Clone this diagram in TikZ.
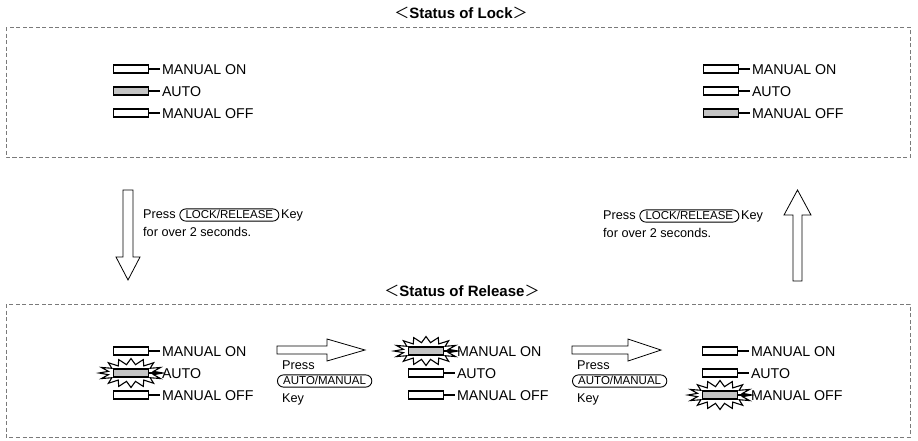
\documentclass[tikz,border=0pt]{standalone}
\usepackage{fontspec}
\setmainfont{Liberation Sans}
\newfontfamily\cjkfont{Noto Sans CJK JP}
\usetikzlibrary{shapes.misc,positioning}
\definecolor{ledgray}{HTML}{C4C4C4}
\definecolor{framegray}{HTML}{7A7A7A}
\tikzset{
  ledbox/.style={draw,line width=1.6pt,minimum width=35pt,minimum height=8.5pt,inner sep=0pt,fill=white},
  ledon/.style={ledbox,fill=ledgray},
  ledtxt/.style={anchor=west,inner sep=1.5pt,font=\fontsize{14.2}{16}\selectfont,text height=10.2pt,text depth=0pt},
  stub/.style={line width=1.6pt},
  frame/.style={draw=framegray,dash pattern=on 4pt off 2.5pt,line width=0.8pt},
  titletxt/.style={font=\fontsize{15}{17}\selectfont\bfseries,inner sep=0pt},
  presstxt/.style={font=\fontsize{12.7}{14}\selectfont,inner sep=0pt,anchor=west,text height=9pt,text depth=2.5pt},
  keycap/.style={draw,rounded rectangle,line width=0.9pt,font=\fontsize{11.5}{12}\selectfont,inner xsep=3pt,inner ysep=1pt,text height=8.2pt,text depth=2pt},
  blockarrow/.style={draw,line width=0.8pt,fill=white,line join=miter},
  burstline/.style={draw,line width=1.1pt,fill=white,line join=miter},
}
% one LED row: name, position, style, label
\newcommand\ledrow[4]{%
  \node[#3] (#1) at (#2) {};
  \node[ledtxt] (#1t) at ([xshift=11pt]#1.east) {#4};
  \draw[stub] (#1.east) -- (#1t.west);
}
% flashing burst around a position
\newcommand\flashburst[1]{%
  \begin{scope}[shift={(#1)}]
    \draw[burstline] (0:32 and 14.5)
      \foreach \i in {1,...,31} { -- ({\i*360/32}:{23+9*(1-mod(\i,2))} and {8.5+6*(1-mod(\i,2))}) } -- cycle;
  \end{scope}
}
\begin{document}
\begin{tikzpicture}[x=1pt,y=-1pt]
\useasboundingbox (0,0) rectangle (918,440);

% frames
\draw[frame] (6,27) rectangle (910,157);
\draw[frame] (6,304) rectangle (910,437);

% titles
\node[titletxt] (lockT) at (461,13) {{\cjkfont\mdseries ＜}Status of Lock{\cjkfont\mdseries ＞}};
\node[titletxt] (relT) at (462,291) {{\cjkfont\mdseries ＜}Status of Release{\cjkfont\mdseries ＞}};

% lock status, left
\ledrow{la}{131,69}{ledbox}{MANUAL ON}
\ledrow{lb}{131,91}{ledon}{AUTO}
\ledrow{lc}{131,113}{ledbox}{MANUAL OFF}
% lock status, right
\ledrow{ra}{721,69}{ledbox}{MANUAL ON}
\ledrow{rb}{721,91}{ledbox}{AUTO}
\ledrow{rc}{721,113}{ledon}{MANUAL OFF}

% vertical arrows
\draw[blockarrow] (123,190) -- (133,190) -- (133,257) -- (140,257) -- (128,280) -- (116,257) -- (123,257) -- cycle;
\draw[blockarrow] (793,281) -- (802,281) -- (802,215) -- (811,215) -- (797.5,190) -- (784,215) -- (793,215) -- cycle;

% press lock/release texts
\node[presstxt] (p1) at (143,215) {Press};
\node[keycap,right=3.5pt of p1] (k1) {LOCK/RELEASE};
\node[presstxt,right=1.5pt of k1] (p1k) {Key};
\node[presstxt] (p1b) at (143,233) {for over 2 seconds.};

\node[presstxt] (p3) at (603,216) {Press};
\node[keycap,right=3.5pt of p3] (k3) {LOCK/RELEASE};
\node[presstxt,right=1.5pt of k3] (p3k) {Key};
\node[presstxt] (p3b) at (603,234) {for over 2 seconds.};

% release status, group 1
\flashburst{131,373}
\ledrow{ga}{131,351}{ledbox}{MANUAL ON}
\ledrow{gb}{131,373}{ledon}{AUTO}
\ledrow{gc}{131,395}{ledbox}{MANUAL OFF}

% release status, group 2
\flashburst{426,351}
\ledrow{ha}{426,351}{ledon}{MANUAL ON}
\ledrow{hb}{426,373}{ledbox}{AUTO}
\ledrow{hc}{426,395}{ledbox}{MANUAL OFF}

% release status, group 3
\flashburst{720,395}
\ledrow{ia}{720,351}{ledbox}{MANUAL ON}
\ledrow{ib}{720,373}{ledbox}{AUTO}
\ledrow{ic}{720,395}{ledon}{MANUAL OFF}

% horizontal arrows
\draw[blockarrow] (277,346) -- (327,346) -- (327,339) -- (365,350) -- (327,361) -- (327,354) -- (277,354) -- cycle;
\draw[blockarrow] (572,346) -- (628,346) -- (628,339) -- (661,350) -- (628,361) -- (628,354) -- (572,354) -- cycle;

% auto/manual texts
\node[presstxt] (p2) at (282,366) {Press};
\node[keycap,anchor=west] (k2) at (277,381) {AUTO/MANUAL};
\node[presstxt] (p2k) at (282,399) {Key};

\node[presstxt] (p4) at (577,366) {Press};
\node[keycap,anchor=west] (k4) at (572,381) {AUTO/MANUAL};
\node[presstxt] (p4k) at (577,399) {Key};
\end{tikzpicture}
\end{document}
